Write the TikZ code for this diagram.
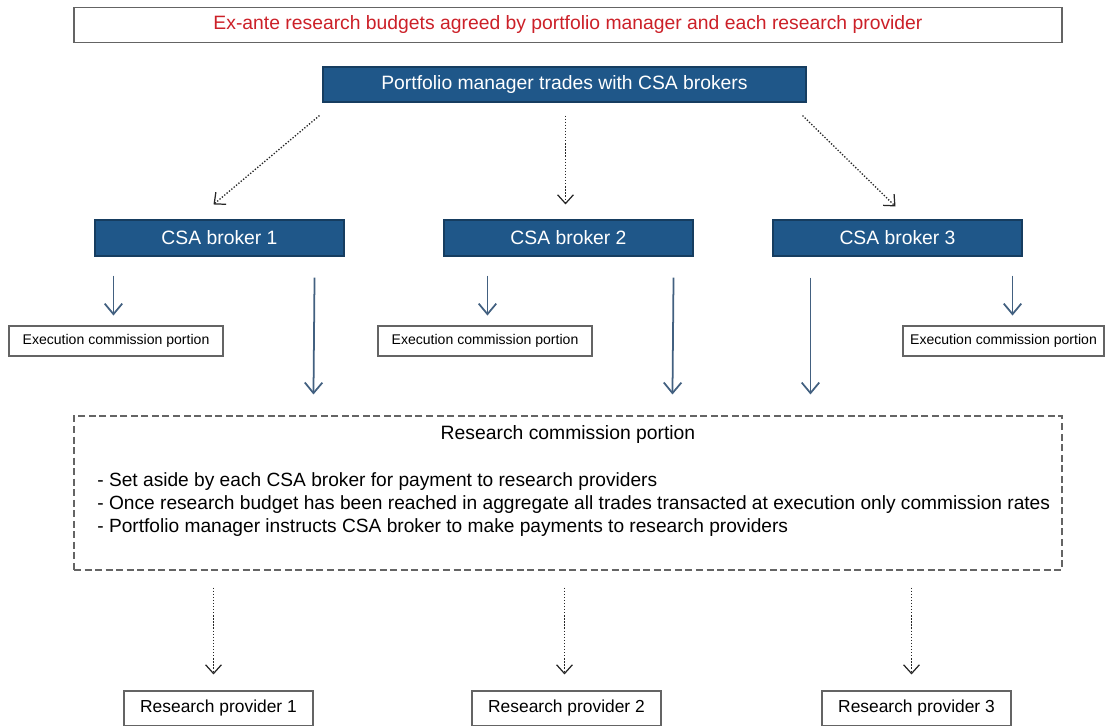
\documentclass[tikz,border=0pt]{standalone}
\usepackage{fontspec}
\setmainfont{Liberation Sans}
\usetikzlibrary{arrows.meta,calc}
\definecolor{csablue}{RGB}{31,87,137}
\definecolor{pfeilblau}{RGB}{66,96,128}
\definecolor{titlered}{RGB}{204,32,40}
\definecolor{rahmen}{RGB}{100,100,100}

\begin{document}
\begin{tikzpicture}[x=0.02cm,y=-0.02cm,
	whitebox/.style={draw=rahmen,fill=white,inner sep=0pt,line width=0.6pt},
	bluebox/.style={draw=csablue!70!black,fill=csablue,text=white,inner sep=0pt,line width=0.6pt,
		minimum width={249*0.02cm},minimum height={36*0.02cm},font=\fontsize{11}{13}\selectfont},
	execbox/.style={whitebox,minimum height={30*0.02cm},font=\fontsize{8}{9}\selectfont},
	provbox/.style={whitebox,minimum width={189*0.02cm},minimum height={35*0.02cm},font=\fontsize{9.9}{11}\selectfont},
	dotpfeil/.style={black!85,densely dotted,line width=0.75pt,-{Straight Barb[length=5pt,width=9pt,line width=0.7pt]}},
	blaupfeil/.style={pfeilblau,line width=1pt,-{Straight Barb[length=6pt,width=10pt,line width=1pt]}}]

	\useasboundingbox (0,0) rectangle (1107,726);

	% top row
	\node[whitebox,minimum width={988*0.02cm},minimum height={35*0.02cm},text=titlered,
		font=\fontsize{11}{13}\selectfont] (budget) at (568,25)
		{Ex-ante research budgets agreed by portfolio manager and each research provider};
	\node[bluebox,minimum width={483*0.02cm},minimum height={35*0.02cm}] (pm) at (564.5,84.5)
		{Portfolio manager trades with CSA brokers};

	% brokers
	\node[bluebox] (b1) at (219.5,238) {CSA broker 1};
	\node[bluebox] (b2) at (568.5,238) {CSA broker 2};
	\node[bluebox] (b3) at (897.5,238) {CSA broker 3};

	\draw[dotpfeil] ($(pm.south west)+(-3,13)$) -- ($(b1.north)+(-6,-15)$);
	\draw[dotpfeil] ($(pm.south)+(1,13)$) -- ($(b2.north)+(-3,-15)$);
	\draw[dotpfeil] ($(pm.south east)+(-4,13)$) -- ($(b3.north)+(-2,-13)$);

	% execution portions
	\node[execbox,minimum width={214*0.02cm}] (ex1) at (116,341) {Execution commission portion};
	\node[execbox,minimum width={214*0.02cm}] (ex2) at (485,341) {Execution commission portion};
	\node[execbox,minimum width={201*0.02cm}] (ex3) at (1003.5,341) {Execution commission portion};

	\draw[blaupfeil] ($(b1.south west)+(19,19)$) -- ($(b1.south west)+(19,59)$);
	\draw[blaupfeil] ($(b2.south west)+(44,19)$) -- ($(b2.south west)+(44,59)$);
	\draw[blaupfeil] ($(b3.south east)+(-10,19)$) -- ($(b3.south east)+(-10,59)$);

	% research portion
	\node[whitebox,dashed,dash pattern=on 4pt off 2pt,minimum width={988*0.02cm},minimum height={154*0.02cm}]
		(rcp) at (568,493) {};
	\node[font=\fontsize{11}{13}\selectfont] (rcptitle) at (568,435) {Research commission portion};
	\node[anchor=north west,align=left,inner sep=0pt,font=\fontsize{10.9}{13.3}\selectfont] (rcptext) at (97,472)
		{- Set aside by each CSA broker for payment to research providers\\
		- Once research budget has been reached in aggregate all trades transacted at execution only commission rates\\
		- Portfolio manager instructs CSA broker to make payments to research providers};

	\draw[blaupfeil] ($(b1.south east)+(-30,21)$) -- ($(rcp.north west)+(240,-21)$);
	\draw[blaupfeil] ($(b2.south east)+(-20,21)$) -- ($(rcp.north west)+(599,-21)$);
	\draw[blaupfeil] ($(b3.south west)+(38,21)$) -- ($(rcp.north west)+(737,-21)$);

	% providers
	\node[provbox] (rp1) at (218.5,708.5) {Research provider 1};
	\node[provbox] (rp2) at (566.5,708.5) {Research provider 2};
	\node[provbox] (rp3) at (916.5,708.5) {Research provider 3};

	\draw[dotpfeil] (rcp.south -| rp1) ++(-5,17) -- ($(rp1.north)+(-5,-16)$);
	\draw[dotpfeil] (rcp.south -| rp2) ++(-2,17) -- ($(rp2.north)+(-2,-16)$);
	\draw[dotpfeil] (rcp.south -| rp3) ++(-5,17) -- ($(rp3.north)+(-5,-16)$);

\end{tikzpicture}
\end{document}
